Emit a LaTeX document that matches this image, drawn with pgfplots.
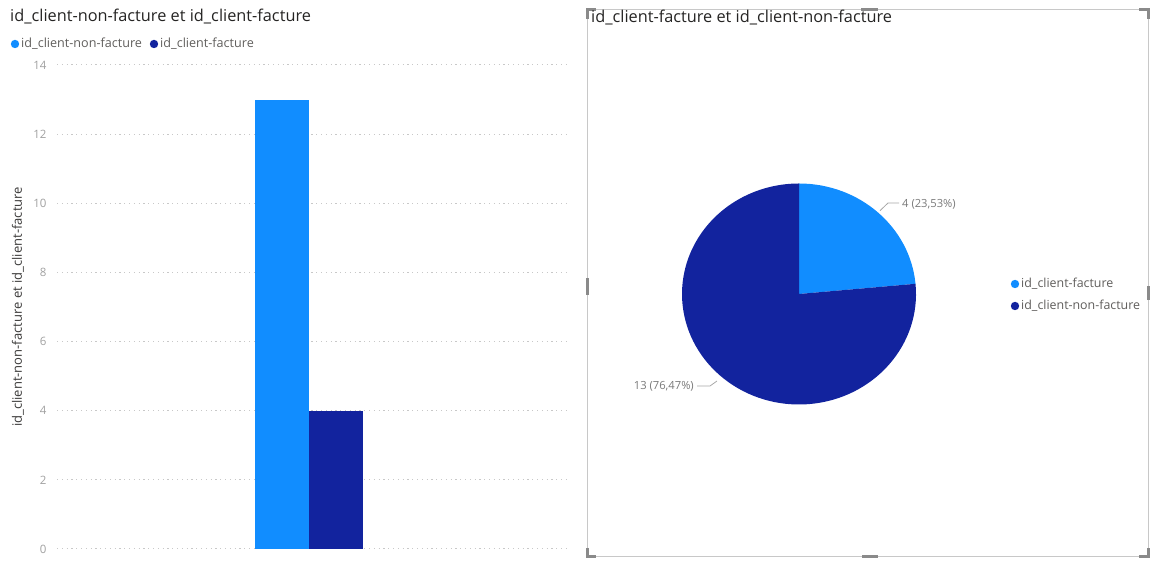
\documentclass[border=0pt]{standalone}
\usepackage{pgfplots}
\pgfplotsset{compat=1.18}
\usepackage{pgfplotstable}
\usepackage{fontspec}
\setmainfont{Open Sans}
\definecolor{lb}{HTML}{118DFF}
\definecolor{db}{HTML}{12239E}
\definecolor{titlecol}{HTML}{252423}
\definecolor{legtext}{HTML}{605E5C}
\definecolor{tickcol}{HTML}{A0A0A0}
\definecolor{gridcol}{HTML}{C8C8C8}
\definecolor{framecol}{HTML}{C8C8C8}
\definecolor{handlecol}{HTML}{8A8A8A}
\definecolor{labcol}{HTML}{7A7A7A}
\definecolor{leadcol}{HTML}{A8A8A8}

\pgfplotstableread{
label value
facture 4
nonfacture 13
}\piedata
\pgfplotstableread{
x y
282 13
}\barnon
\pgfplotstableread{
x y
336 4
}\barfac

\begin{document}
\begin{tikzpicture}
\pgfplotstablegetelem{0}{value}\of\piedata \let\va\pgfplotsretval
\pgfplotstablegetelem{1}{value}\of\piedata \let\vb\pgfplotsretval
\pgfmathsetmacro{\angA}{90-360*\va/(\va+\vb)}
\begin{scope}[x=1bp,y=1bp]
\path (0,0) rectangle (1153,563);
% left panel title and legend
\node[anchor=west, inner sep=0, text=titlecol, font=\fontsize{16.3bp}{19bp}\selectfont] at (10,546) {id\_client-non-facture et id\_client-facture};
\fill[lb] (15,519) circle (4.2);
\node[anchor=west, inner sep=0, text=legtext, font=\fontsize{12.6bp}{14bp}\selectfont] at (21,519) {id\_client-non-facture};
\fill[db] (154,519) circle (4.2);
\node[anchor=west, inner sep=0, text=legtext, font=\fontsize{12.6bp}{14bp}\selectfont] at (160,519) {id\_client-facture};
\node[rotate=90, inner sep=0, text=titlecol!90, font=\fontsize{13bp}{15bp}\selectfont] at (18,256) {id\_client-non-facture et id\_client-facture};
% right panel frame
\draw[framecol, line width=1bp] (587,6) rectangle (1148,553);
\draw[handlecol, line width=3bp, line cap=butt, line join=miter] (587,544) -- (587,553) -- (596,553);
\draw[handlecol, line width=3bp, line cap=butt, line join=miter] (1139,553) -- (1148,553) -- (1148,544);
\draw[handlecol, line width=3bp, line cap=butt, line join=miter] (587,15) -- (587,6) -- (596,6);
\draw[handlecol, line width=3bp, line cap=butt, line join=miter] (1139,6) -- (1148,6) -- (1148,15);
\fill[handlecol] (861,551.5) rectangle (878,554.5);
\fill[handlecol] (862,4.5) rectangle (878,7.5);
\fill[handlecol] (585.5,268) rectangle (588.5,285);
\fill[handlecol] (1146.5,263) rectangle (1149.5,277);
% right panel title and legend
\node[anchor=west, inner sep=0, text=titlecol, font=\fontsize{16.3bp}{19bp}\selectfont] at (591,545) {id\_client-facture et id\_client-non-facture};
\fill[lb] (1015,279) circle (4.2);
\node[anchor=west, inner sep=0, text=legtext, font=\fontsize{12.4bp}{14bp}\selectfont] at (1021,279) {id\_client-facture};
\fill[db] (1015,257) circle (4.2);
\node[anchor=west, inner sep=0, text=legtext, font=\fontsize{12.4bp}{14bp}\selectfont] at (1021,257) {id\_client-non-facture};
% pie labels
\draw[leadcol, line width=0.8bp] (880,352.3) -- (888,360) -- (899,360);
\node[anchor=west, inner sep=0, text=labcol, font=\fontsize{11.2bp}{13bp}\selectfont] at (902,359) {4 (23,53\%)};
\draw[leadcol, line width=0.8bp] (697,177) -- (710,177) -- (717,182);
\node[anchor=east, inner sep=0, text=labcol, font=\fontsize{11.2bp}{13bp}\selectfont] at (694,177) {13 (76,47\%)};
\end{scope}

\begin{axis}[at={(57bp,14bp)}, anchor=south west, scale only axis,
  width=513bp, height=484bp, xmin=57, xmax=570, ymin=0, ymax=14,
  ytick={0,2,...,14}, xtick=\empty,
  axis line style={draw=none}, major tick length=0pt,
  ymajorgrids, grid style={gridcol, line width=1bp, dash pattern=on 1.2bp off 3.6bp},
  yticklabel style={text=tickcol, font=\fontsize{11.5bp}{13bp}\selectfont, anchor=east, xshift=-7bp},
  /pgf/number format/assume math mode=true, clip=false]
\addplot[ybar, bar shift=0pt, bar width=54, fill=lb, draw=none] table[x=x,y=y] {\barnon};
\addplot[ybar, bar shift=0pt, bar width=54, fill=db, draw=none] table[x=x,y=y] {\barfac};
\end{axis}

\begin{axis}[at={(682bp,158.5bp)}, anchor=south west, scale only axis,
  width=234bp, height=221bp, xmin=-1, xmax=1, ymin=-1, ymax=1,
  hide axis, clip=false]
\fill[lb] (axis cs:0,0) -- (axis cs:0,1) arc[start angle=90, end angle=\angA, x radius=117bp, y radius=110.5bp] -- cycle;
\fill[db] (axis cs:0,0) -- (axis cs:{cos(\angA)},{sin(\angA)}) arc[start angle=\angA, end angle=-270, x radius=117bp, y radius=110.5bp] -- cycle;
\end{axis}
\end{tikzpicture}
\end{document}
